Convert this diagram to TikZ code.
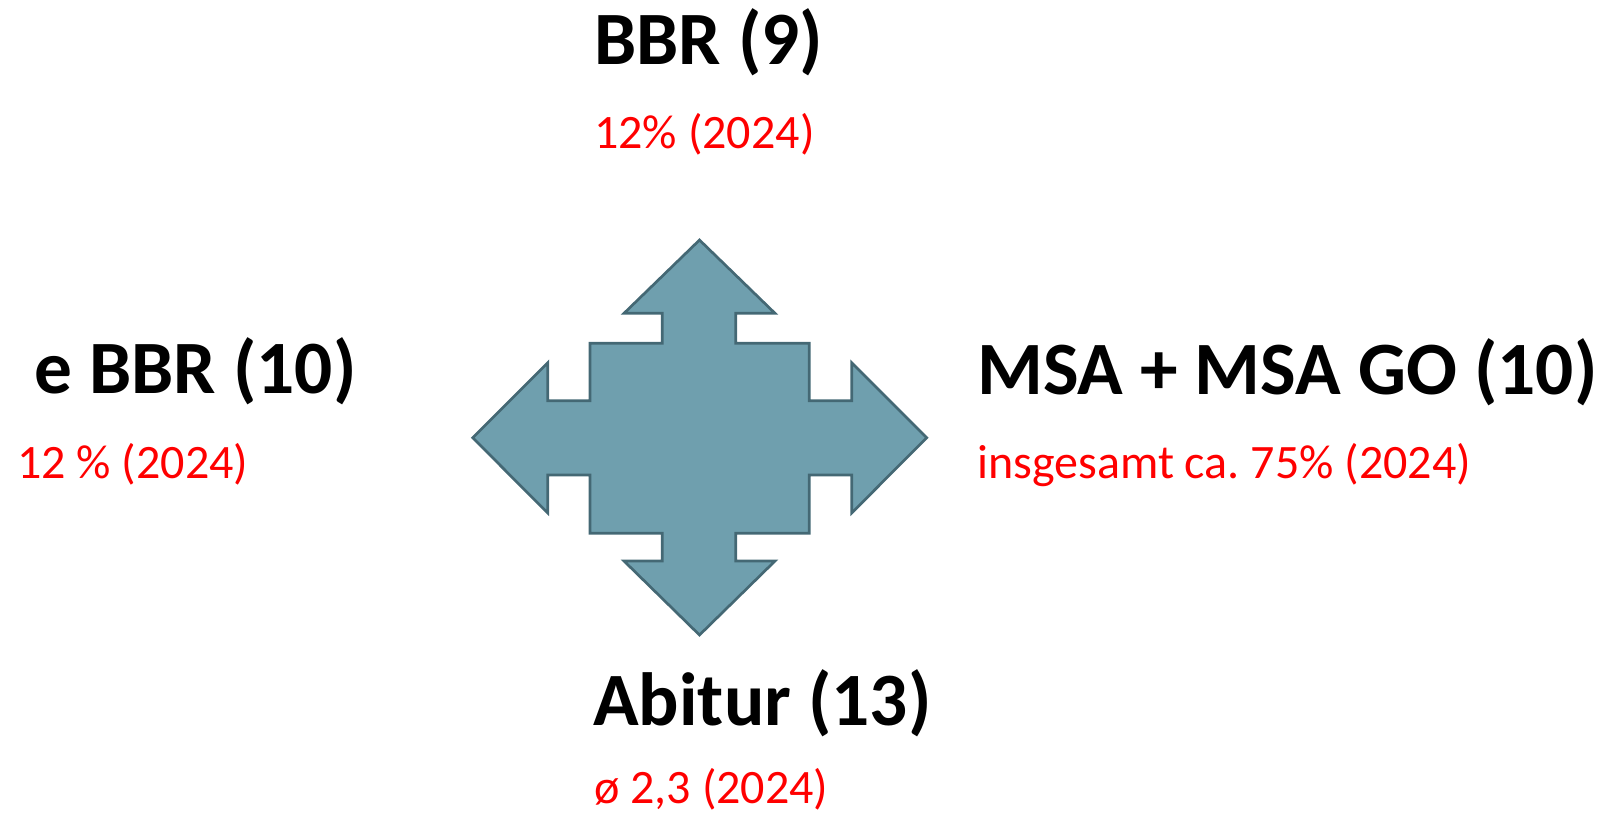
\documentclass[tikz,border=0pt]{standalone}
\usepackage{fontspec}
\setmainfont{Carlito}
\frenchspacing
\definecolor{arrowfill}{RGB}{111,159,174}
\definecolor{arrowline}{RGB}{68,104,116}
\definecolor{redtxt}{RGB}{255,0,0}
\begin{document}
\begin{tikzpicture}[x=0.75pt,y=-0.75pt,
  title/.style={anchor=base west,inner sep=0pt,font=\fontsize{56.5}{62}\selectfont\bfseries,text=black},
  sub/.style={anchor=base west,inner sep=0pt,font=\fontsize{36}{40}\selectfont,text=redtxt}]
\useasboundingbox (0,0) rectangle (1602,815);
\draw[fill=arrowfill,draw=arrowline,line width=2pt,line join=miter]
 (699.5,240) -- (775,313.3) -- (735.7,313.3) -- (735.7,343.3) -- (809.3,343.3) -- (809.3,400.7)
 -- (851.7,400.7) -- (851.7,362.7) -- (926.7,437.7) -- (851.7,513) -- (851.7,475) -- (809.3,475)
 -- (809.3,533.3) -- (735.7,533.3) -- (735.7,561) -- (775,561) -- (699.5,635) -- (624,561)
 -- (662.3,561) -- (662.3,533.3) -- (590,533.3) -- (590,475) -- (547.7,475) -- (547.7,513)
 -- (472.7,437.7) -- (547.7,362.7) -- (547.7,400.7) -- (590,400.7) -- (590,343.3) -- (662.3,343.3)
 -- (662.3,313.3) -- (624,313.3) -- cycle;
\node[title] (bbr) at (594,64) {BBR (9)};
\node[sub] (bbrp) at (594,148) {12\% (2024)};
\node[title] (ebbr) at (34,393) {e BBR (10)};
\node[sub] (ebbrp) at (17,478) {12 \% (2024)};
\node[title] (msa) at (977,394) {MSA + MSA GO (10)};
\node[sub] (msap) at (977,478) {insgesamt ca. 75\% (2024)};
\node[title] (abi) at (593,725) {Abitur (13)};
\node[sub] (abip) at (594,803) {ø 2,3 (2024)};
\end{tikzpicture}
\end{document}
